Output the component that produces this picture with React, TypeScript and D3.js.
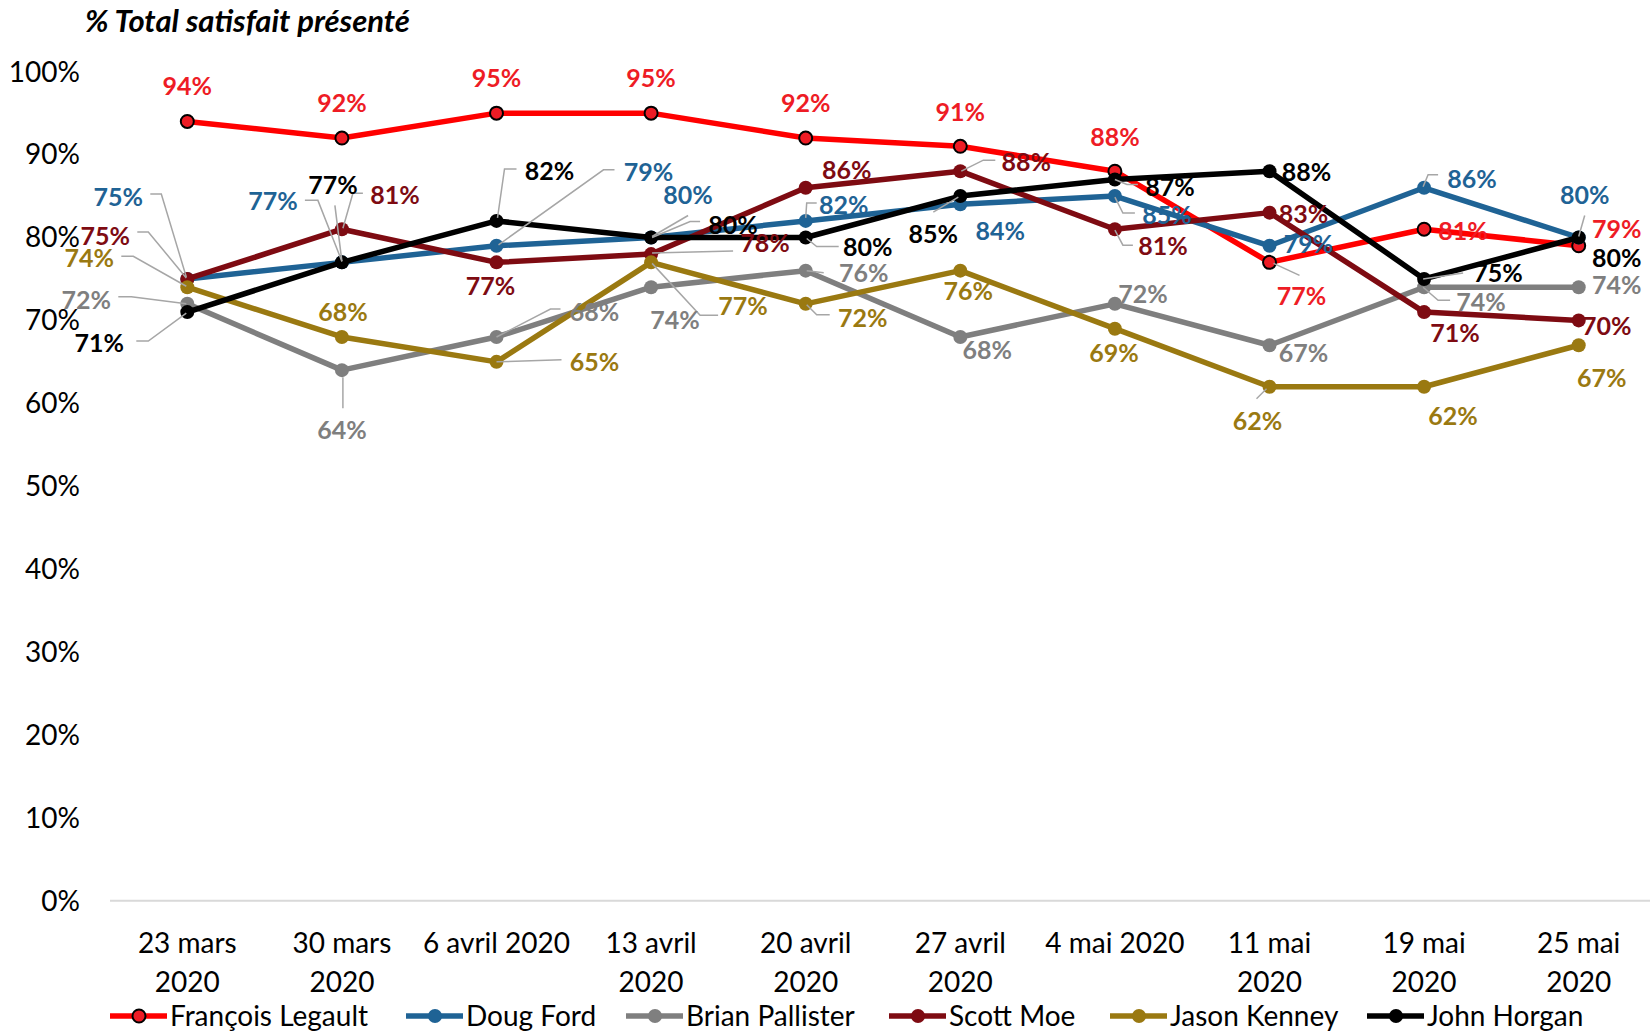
import React from "react";
import * as d3 from "d3";

// ---------- data ----------
const dateLines: string[][] = [
  ["23 mars", "2020"],
  ["30 mars", "2020"],
  ["6 avril 2020"],
  ["13 avril", "2020"],
  ["20 avril", "2020"],
  ["27 avril", "2020"],
  ["4 mai 2020"],
  ["11 mai", "2020"],
  ["19 mai", "2020"],
  ["25 mai", "2020"],
];
const legault = [94, 92, 95, 95, 92, 91, 88, 77, 81, 79];
const ford = [75, 77, 79, 80, 82, 84, 85, 79, 86, 80];
const pallister = [72, 64, 68, 74, 76, 68, 72, 67, 74, 74];
const moe = [75, 81, 77, 78, 86, 88, 81, 83, 71, 70];
const kenney = [74, 68, 65, 77, 72, 76, 69, 62, 62, 67];
const horgan = [71, 77, 82, 80, 80, 85, 87, 88, 75, 80];
const yTicks = [0, 10, 20, 30, 40, 50, 60, 70, 80, 90, 100];
const seriesNames = ["François Legault", "Doug Ford", "Brian Pallister", "Scott Moe", "Jason Kenney", "John Horgan"];
const title = "% Total satisfait présenté";

// ---------- label layout (pixel offsets from the data point) ----------
type Pt = [number, number];
const legaultLabelOff: Pt[] = [[0, -35], [0, -35], [0, -35], [0, -35], [0, -35], [0, -34], [0, -34], [32, 34], [39, 2], [38, -17]];
const fordLabelOff: Pt[] = [[-69, -82], [-69, -61], [152, -74], [37, -42], [38, -16], [40, 27], [52, 19], [39, -2], [48, -9], [6, -42]];
const pallisterLabelOff: Pt[] = [[-101, -4], [0, 60], [98, -25], [24, 33], [58, 3], [27, 13], [28, -10], [34, 8], [57, 15], [38, -2]];
const moeLabelOff: Pt[] = [[-82, -43], [53, -34], [-6, 24], [114, -11], [41, -18], [66, -9], [48, 17], [34, 2], [31, 21], [28, 6]];
const kenneyLabelOff: Pt[] = [[-98, -29], [1, -25], [98, 0], [92, 44], [57, 14], [8, 21], [-1, 25], [-12, 35], [29, 30], [23, 33]];
const horganLabelOff: Pt[] = [[-88, 31], [-9, -77], [53, -50], [82, -12], [62, 10], [-27, 38], [55, 8], [37, 1], [74, -6], [38, 21]];

const legaultLeaders: (Pt[] | null)[] = [null, null, null, null, null, null, null, [[4, 1], [30, 13]], null, null];
const fordLeaders: (Pt[] | null)[] = [
  [[-37, -85], [-26, -85], [-1, -2]],
  [[-37, -62], [-24, -62], [0, -1]],
  [[118, -76], [107, -76], [2, -1]],
  [[37, -22], [1, -1]],
  [[11, -18], [1, -18], [0, -3]],
  null,
  [[0, 1], [8, 17], [20, 17]],
  null,
  [[14, -13], [4, -13], [-1, -1]],
  [[6, -22], [0, -1]],
];
const pallisterLeaders: (Pt[] | null)[] = [
  [[-69, -7], [-56, -7], [-1, 0]],
  [[1, 7], [1, 38]],
  [[64, -28], [54, -28], [0, 0]],
  null,
  [[1, 0], [18, 2]],
  null,
  null,
  null,
  [[26, 13], [14, 13], [-1, 0]],
  null,
];
const moeLeaders: (Pt[] | null)[] = [
  [[-50, -47], [-39, -47], [-1, -1]],
  [[21, -36], [11, -36], [1, -1]],
  null,
  [[82, -3], [1, -1]],
  null,
  [[35, -11], [23, -11], [1, 0]],
  [[0, 1], [8, 16], [18, 16]],
  null,
  null,
  null,
];
const kenneyLeaders: (Pt[] | null)[] = [
  [[-66, -31], [-54, -31], [-1, -1]],
  null,
  [[65, -2], [0, 0]],
  [[67, 53], [49, 53], [1, 1]],
  [[1, 1], [11, 11], [24, 11]],
  null,
  null,
  [[-3, 2], [-13, 12]],
  null,
  null,
];
const horganLeaders: (Pt[] | null)[] = [
  [[-51, 29], [-39, 29], [-1, 1]],
  [[-7, -57], [0, -1]],
  [[20, -52], [8, -52], [1, -3]],
  [[49, -16], [39, -16], [1, 0]],
  [[33, 9], [11, 9], [1, 1]],
  [[-2, 1], [-27, 16]],
  [[0, 0], [12, 5], [23, 5]],
  null,
  [[39, -6], [-1, 0]],
  null,
];

// ---------- styles ----------
const FONT = "Lato, 'Open Sans', sans-serif";
const series = [
  { name: seriesNames[0], values: legault, line: "#FF0000", fill: "#EE1C25", stroke: "#000", label: "#EE1C25", off: legaultLabelOff, leaders: legaultLeaders },
  { name: seriesNames[1], values: ford, line: "#1F6395", fill: "#1F6395", stroke: "none", label: "#1F6395", off: fordLabelOff, leaders: fordLeaders },
  { name: seriesNames[2], values: pallister, line: "#7F7F7F", fill: "#7F7F7F", stroke: "none", label: "#7F7F7F", off: pallisterLabelOff, leaders: pallisterLeaders },
  { name: seriesNames[3], values: moe, line: "#7E0B12", fill: "#7E0B12", stroke: "none", label: "#7E0B12", off: moeLabelOff, leaders: moeLeaders },
  { name: seriesNames[4], values: kenney, line: "#9A7911", fill: "#9A7911", stroke: "none", label: "#9A7911", off: kenneyLabelOff, leaders: kenneyLeaders },
  { name: seriesNames[5], values: horgan, line: "#000000", fill: "#000000", stroke: "none", label: "#000000", off: horganLabelOff, leaders: horganLeaders },
];
const legendX = [110, 406, 626, 889, 1110, 1367];

const W = 1650;
const H = 1032;

export default function App() {
  const x = d3.scaleBand<number>().domain(d3.range(dateLines.length)).range([110, 1656]);
  const cx = (i: number) => (x(i) as number) + x.bandwidth() / 2;
  const y = d3.scaleLinear().domain([0, 100]).range([900.7, 71.7]);
  const lineGen = d3
    .line<number>()
    .x((_, i) => cx(i))
    .y((d) => y(d));

  return (
    <svg
      width={W}
      height={H}
      style={{ position: "absolute", left: 0, top: 0, display: "block", background: "#fff" }}
      fontFamily={FONT}
    >
      <rect width={W} height={H} fill="#fff" />
      {/* title */}
      <text x={85} y={32} fontSize={31} fontWeight={700} fontStyle="italic" fill="#000">
        {title}
      </text>

      {/* y axis labels */}
      {yTicks.map((t) => (
        <text key={t} x={80} y={y(t)} dy="0.35em" textAnchor="end" fontSize={28} fill="#000">
          {t}%
        </text>
      ))}
      {/* baseline */}
      <line x1={110} x2={W} y1={y(0)} y2={y(0)} stroke="#D9D9D9" strokeWidth={2} />

      {/* x labels */}
      {dateLines.map((lines, i) =>
        lines.map((ln, j) => (
          <text key={i + "-" + j} x={cx(i)} y={943 + j * 39} dy="0.35em" textAnchor="middle" fontSize={28} fill="#000">
            {ln}
          </text>
        ))
      )}

      {/* lines and markers */}
      {series.map((s) => (
        <g key={s.name}>
          <path d={lineGen(s.values) || ""} fill="none" stroke={s.line} strokeWidth={5.5} strokeLinejoin="round" />
          {s.values.map((v, i) => (
            <circle
              key={i}
              cx={cx(i)}
              cy={y(v)}
              r={s.stroke === "none" ? 7 : 6.5}
              fill={s.fill}
              stroke={s.stroke}
              strokeWidth={s.stroke === "none" ? 0 : 2}
            />
          ))}
        </g>
      ))}

      {/* leader lines */}
      {series.map((s) =>
        s.values.map((v, i) => {
          const ld = s.leaders[i];
          if (!ld) return null;
          const px = cx(i);
          const py = y(v);
          const pts = ld.map(([dx, dy]) => `${px + dx},${py + dy}`).join(" ");
          return <polyline key={s.name + "l" + i} points={pts} fill="none" stroke="#A6A6A6" strokeWidth={1.5} />;
        })
      )}

      {/* data labels */}
      {series.map((s) =>
        s.values.map((v, i) => {
          const [dx, dy] = s.off[i];
          return (
            <text
              key={s.name + "t" + i}
              x={cx(i) + dx}
              y={y(v) + dy}
              dy="0.35em"
              textAnchor="middle"
              fontSize={25}
              fontWeight={700}
              fill={s.label}
            >
              {v}%
            </text>
          );
        })
      )}

      {/* legend */}
      {series.map((s, k) => {
        const lx = legendX[k];
        const ly = 1016;
        return (
          <g key={"lg" + k}>
            <line x1={lx} x2={lx + 57} y1={ly} y2={ly} stroke={s.line} strokeWidth={5.5} />
            <circle
              cx={lx + 29}
              cy={ly}
              r={s.stroke === "none" ? 7 : 6.5}
              fill={s.fill}
              stroke={s.stroke}
              strokeWidth={s.stroke === "none" ? 0 : 2}
            />
            <text x={lx + 60} y={ly} dy="0.35em" fontSize={28} fill="#000">
              {s.name}
            </text>
          </g>
        );
      })}
    </svg>
  );
}
